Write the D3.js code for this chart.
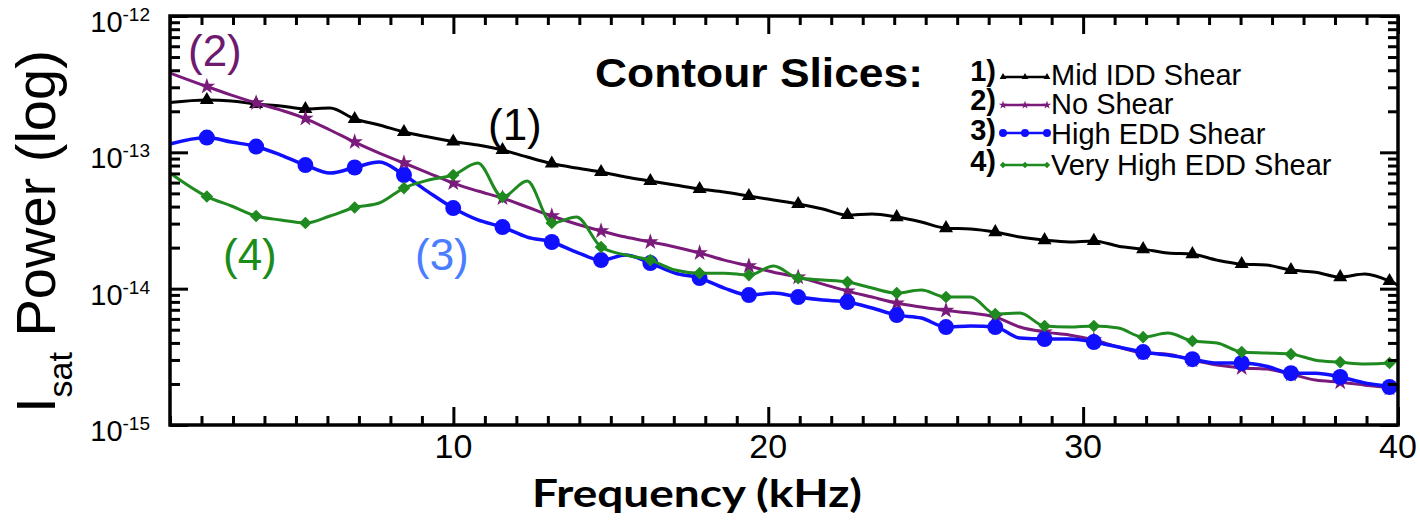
<!DOCTYPE html>
<html>
<head>
<meta charset="utf-8">
<script src="https://cdn.jsdelivr.net/npm/d3@7"></script>
<style>
  html, body { margin: 0; padding: 0; background: #fff; }
  svg { display: block; font-family: "Liberation Sans", Arial, sans-serif; }
</style>
</head>
<body>
<svg id="chart" width="1420" height="522"></svg>
<script>
// frequency grid (kHz); markers sit on every other point
var freqs = [1].concat(d3.range(49).map(i => +(2.17 + 0.7825 * i).toFixed(3))).concat([40]);

// Isat power per slice
var midIdd = [2.32e-13, 2.42e-13, 2.38e-13, 2.26e-13, 2.19e-13, 2.08e-13, 2.11e-13, 1.755e-13, 1.586e-13, 1.409e-13, 1.295e-13,
  1.20e-13, 1.131e-13, 1.04e-13, 9.24e-14, 8.28e-14, 7.67e-14, 7.17e-14, 6.59e-14, 6.16e-14, 5.76e-14,
  5.38e-14, 5.11e-14, 4.78e-14, 4.47e-14, 4.18e-14, 3.84e-14, 3.47e-14, 3.53e-14, 3.35e-14, 3.08e-14,
  2.78e-14, 2.74e-14, 2.60e-14, 2.39e-14, 2.27e-14, 2.20e-14, 2.24e-14, 2.05e-14, 1.95e-14, 1.825e-14,
  1.79e-14, 1.62e-14, 1.515e-14, 1.49e-14, 1.37e-14, 1.32e-14, 1.216e-14, 1.28e-14, 1.137e-14, 1.063e-14];
var noShear = [3.82e-13, 3.04e-13, 2.63e-13, 2.30e-13, 2.04e-13, 1.77e-13, 1.458e-13, 1.19e-13, 9.88e-14, 8.35e-14, 7.05e-14,
  5.95e-14, 5.20e-14, 4.62e-14, 3.97e-14, 3.41e-14, 2.98e-14, 2.65e-14, 2.39e-14, 2.20e-14, 2.02e-14,
  1.825e-14, 1.62e-14, 1.465e-14, 1.32e-14, 1.216e-14, 1.08e-14, 9.60e-15, 8.68e-15, 7.84e-15, 7.33e-15,
  6.91e-15, 6.62e-15, 6.19e-15, 5.23e-15, 4.80e-15, 4.57e-15, 4.20e-15, 3.73e-15, 3.37e-15, 3.31e-15,
  2.99e-15, 2.75e-15, 2.62e-15, 2.57e-15, 2.36e-15, 2.135e-15, 2.06e-15, 1.96e-15, 1.865e-15, 1.80e-15];
var highEdd = [1.15e-13, 1.284e-13, 1.19e-13, 1.103e-13, 9.55e-14, 8.07e-14, 7.05e-14, 7.74e-14, 8.49e-14, 6.82e-14, 5.11e-14,
  3.90e-14, 3.19e-14, 2.83e-14, 2.39e-14, 2.20e-14, 1.855e-14, 1.62e-14, 1.764e-14, 1.54e-14, 1.30e-14,
  1.196e-14, 1.01e-14, 8.98e-15, 9.28e-15, 8.68e-15, 8.25e-15, 7.97e-15, 7.21e-15, 6.40e-15, 6.09e-15,
  5.23e-15, 5.32e-15, 5.23e-15, 4.34e-15, 4.27e-15, 4.27e-15, 4.06e-15, 3.73e-15, 3.43e-15, 3.26e-15,
  3.04e-15, 2.85e-15, 2.85e-15, 2.70e-15, 2.40e-15, 2.40e-15, 2.25e-15, 2.03e-15, 1.90e-15, 1.83e-15];
var veryHighEdd = [7.05e-14, 4.74e-14, 4.04e-14, 3.41e-14, 3.19e-14, 3.03e-14, 3.41e-14, 3.94e-14, 4.25e-14, 5.47e-14, 6.26e-14,
  6.82e-14, 8.35e-14, 4.70e-14, 6.16e-14, 3.03e-14, 3.35e-14, 2.02e-14, 1.764e-14, 1.62e-14, 1.37e-14,
  1.30e-14, 1.30e-14, 1.258e-14, 1.465e-14, 1.196e-14, 1.157e-14, 1.118e-14, 1.01e-14, 9.28e-15, 9.77e-15,
  8.68e-15, 8.68e-15, 6.51e-15, 6.62e-15, 5.32e-15, 5.23e-15, 5.32e-15, 5.14e-15, 4.41e-15, 4.72e-15,
  4.13e-15, 3.99e-15, 3.43e-15, 3.37e-15, 3.31e-15, 2.99e-15, 2.89e-15, 2.80e-15, 2.85e-15, 2.99e-15];

var seriesNames = ["Mid IDD Shear", "No Shear", "High EDD Shear", "Very High EDD Shear"];
var seriesColors = ["#000000", "#7a1a7a", "#1010ff", "#1f8a1f"];
var labelColors = ["#000000", "#6e1a6e", "#4a7dff", "#1a8c1a"];
var xTicks = [10, 20, 30, 40];
var yTicks = [1e-15, 1e-14, 1e-13, 1e-12];

var series = [midIdd, noShear, highEdd, veryHighEdd].map((vals, k) => ({
  name: seriesNames[k],
  color: seriesColors[k],
  values: vals.map((v, i) => ({ f: freqs[i], p: v, mark: i > 0 && i < freqs.length - 1 && (i - 1) % 2 === 0 }))
}));

var svg = d3.select("#chart");
var pl = 170, pr = 1398, pt = 16, pb = 425;

var x = d3.scaleLinear().domain([1, 40]).range([pl, pr]);
var y = d3.scaleLog().domain([1e-15, 1e-12]).range([pb, pt]);

var symbols = [
  d3.symbol().type(d3.symbolTriangle).size(85),
  d3.symbol().type(d3.symbolStar).size(85),
  d3.symbol().type(d3.symbolCircle).size(200),
  d3.symbol().type(d3.symbolSquare).size(80)
];
var legendSymbols = [
  d3.symbol().type(d3.symbolTriangle).size(20),
  d3.symbol().type(d3.symbolStar).size(22),
  d3.symbol().type(d3.symbolCircle).size(50),
  d3.symbol().type(d3.symbolSquare).size(20)
];
var rot = [0, 0, 0, 45];

// lines
var line = d3.line().x(d => x(d.f)).y(d => y(d.p)).curve(d3.curveMonotoneX);
var plot = svg.append("g");
series.forEach(function (s, k) {
  plot.append("path")
    .datum(s.values)
    .attr("fill", "none")
    .attr("stroke", s.color)
    .attr("stroke-width", k == 2 ? 3.5 : 3)
    .attr("d", line);
  plot.selectAll(".m" + k)
    .data(s.values.filter(d => d.mark))
    .enter().append("path")
    .attr("class", "m" + k)
    .attr("fill", s.color)
    .attr("transform", d => `translate(${x(d.f)},${y(d.p)}) rotate(${rot[k]})`)
    .attr("d", symbols[k]);
});

// axes, ticks inward on all four sides
var minorX = d3.range(1, 41).filter(v => xTicks.indexOf(v) < 0);
var minorY = [];
[1e-15, 1e-14, 1e-13].forEach(b => d3.range(2, 10).forEach(m => minorY.push(b * m)));

function axisSet(gen, scale, pos, vals, len) {
  var g = svg.append("g").attr("transform", pos)
    .call(gen(scale).tickValues(vals).tickSize(len).tickFormat(""));
  g.select(".domain").remove();
  g.selectAll(".tick line").attr("stroke", "#000").attr("stroke-width", 3);
  return g;
}
axisSet(d3.axisBottom, x, `translate(0,${pb})`, minorX, -9);
axisSet(d3.axisBottom, x, `translate(0,${pb})`, xTicks, -18);
axisSet(d3.axisTop, x, `translate(0,${pt})`, minorX, -9);
axisSet(d3.axisTop, x, `translate(0,${pt})`, xTicks, -18);
axisSet(d3.axisLeft, y, `translate(${pl},0)`, minorY, -10);
axisSet(d3.axisLeft, y, `translate(${pl},0)`, yTicks, -18);
axisSet(d3.axisRight, y, `translate(${pr},0)`, minorY, -10);
axisSet(d3.axisRight, y, `translate(${pr},0)`, yTicks, -18);

svg.append("rect")
  .attr("x", pl).attr("y", pt)
  .attr("width", pr - pl).attr("height", pb - pt)
  .attr("fill", "none").attr("stroke", "#000").attr("stroke-width", 3.5);

// tick labels
svg.append("g").selectAll("text")
  .data(xTicks).enter().append("text")
  .attr("x", d => x(d)).attr("y", 458)
  .attr("text-anchor", "middle")
  .attr("font-size", 34)
  .text(d => d);

var yl = svg.append("g").selectAll("text")
  .data(yTicks).enter().append("text")
  .attr("x", 150).attr("y", d => y(d) + 16)
  .attr("text-anchor", "end");
yl.append("tspan").attr("font-size", 29).text("10");
yl.append("tspan").attr("font-size", 19).attr("dy", -11).text(d => Math.round(Math.log10(d)));

// axis titles
svg.append("text")
  .attr("x", 697).attr("y", 507)
  .attr("text-anchor", "middle")
  .attr("font-family", "Lato, 'Open Sans', sans-serif")
  .attr("font-weight", "bold")
  .attr("font-size", 38)
  .attr("textLength", 330)
  .attr("lengthAdjust", "spacingAndGlyphs")
  .text("Frequency (kHz)");

var yt = svg.append("text")
  .attr("transform", "translate(55,413) rotate(-90)")
  .attr("font-size", 56);
yt.append("tspan").text("I");
yt.append("tspan").attr("font-size", 34).attr("dy", 17).text("sat");
yt.append("tspan").attr("dy", -17).text(" Power (log)");

// curve labels
var tags = [
  { t: "(1)", x: 488, y: 140 },
  { t: "(2)", x: 188, y: 66 },
  { t: "(3)", x: 415, y: 270 },
  { t: "(4)", x: 223, y: 270 }
];
svg.append("g").selectAll("text")
  .data(tags).enter().append("text")
  .attr("x", d => d.x).attr("y", d => d.y)
  .attr("font-size", 44)
  .attr("fill", (d, i) => labelColors[i])
  .text(d => d.t);

// legend
svg.append("text")
  .attr("x", 595).attr("y", 87)
  .attr("font-weight", "bold")
  .attr("font-size", 41)
  .attr("textLength", 328)
  .attr("lengthAdjust", "spacingAndGlyphs")
  .text("Contour Slices:");

var rowBase = [81, 110, 140, 171];
var rowLine = [77, 105, 133, 165];
var leg = svg.append("g");
series.forEach(function (s, k) {
  leg.append("text")
    .attr("x", 996).attr("y", rowBase[k])
    .attr("text-anchor", "end")
    .attr("font-weight", "bold")
    .attr("font-size", 29)
    .text((k + 1) + ")");
  leg.append("line")
    .attr("x1", 1002).attr("x2", 1048)
    .attr("y1", rowLine[k]).attr("y2", rowLine[k])
    .attr("stroke", s.color).attr("stroke-width", 2.5);
  [1003, 1025, 1047].forEach(function (px) {
    leg.append("path")
      .attr("fill", s.color)
      .attr("transform", `translate(${px},${rowLine[k]}) rotate(${rot[k]})`)
      .attr("d", legendSymbols[k]);
  });
  leg.append("text")
    .attr("x", 1051).attr("y", rowBase[k] + 4)
    .attr("font-size", 29)
    .text(s.name);
});
</script>
</body>
</html>
